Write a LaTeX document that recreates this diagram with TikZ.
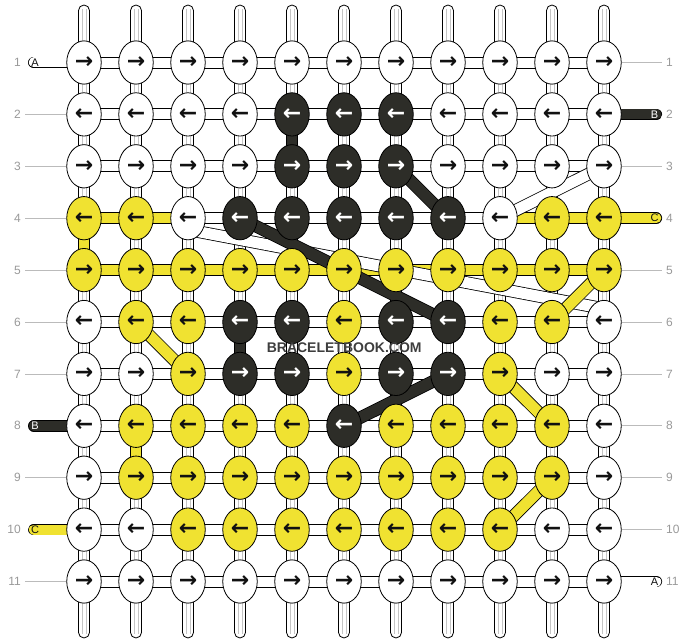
\documentclass[tikz,border=0pt]{standalone}
\usepackage{fontspec}
\setmainfont{Liberation Sans}
\newfontfamily\arrowfont{DejaVu Sans}
\usetikzlibrary{shapes.geometric,calc}
\pgfdeclarelayer{bg}
\pgfdeclarelayer{mid}
\pgfsetlayers{bg,mid,main}
\definecolor{colW}{HTML}{FFFFFF}
\definecolor{colY}{HTML}{F0E231}
\definecolor{colD}{HTML}{2D2D28}
\definecolor{txtW}{HTML}{111111}
\definecolor{txtY}{HTML}{111111}
\definecolor{txtD}{HTML}{FFFFFF}
\definecolor{lblgray}{HTML}{999999}
\definecolor{linegray}{HTML}{BBBBBB}
\definecolor{warpgray}{HTML}{C4C4C4}
\definecolor{wmgray}{HTML}{3E3E3E}
\begin{document}
\begin{tikzpicture}[x=1pt,y=-1pt,
  knot/.style={ellipse,draw=black,line width=0.8pt,minimum width=34.5pt,minimum height=43.3pt,inner sep=0pt,font=\arrowfont\bfseries\fontsize{22}{22}\selectfont},
  link/.style={draw=black,line width=0.8pt},
  rowlbl/.style={text=lblgray,font=\fontsize{12}{12}\selectfont,inner sep=0pt},
  guide/.style={draw=linegray,line width=0.8pt},
  tailout/.style={line width=11.6pt,line cap=round,draw=black},
  tailin/.style={line width=10pt,line cap=round},
  tailtxt/.style={font=\fontsize{11}{11}\selectfont,inner sep=0pt},
  bandout/.style={line width=12.6pt,draw=black},
  bandin/.style={line width=11pt},
  wm/.style={font=\bfseries\fontsize{14}{14}\selectfont,text=wmgray,inner sep=0pt}]
\useasboundingbox (0,0) rectangle (688,644);

% knots
\foreach \r/\cl in {
1/{W,W,W,W,W,W,W,W,W,W,W},
2/{W,W,W,W,D,D,D,W,W,W,W},
3/{W,W,W,W,D,D,D,W,W,W,W},
4/{Y,Y,W,D,D,D,D,D,W,Y,Y},
5/{Y,Y,Y,Y,Y,Y,Y,Y,Y,Y,Y},
6/{W,Y,Y,D,D,Y,D,D,Y,Y,W},
7/{W,W,Y,D,D,Y,D,D,Y,W,W},
8/{W,Y,Y,Y,Y,D,Y,Y,Y,Y,W},
9/{W,Y,Y,Y,Y,Y,Y,Y,Y,Y,W},
10/{W,W,Y,Y,Y,Y,Y,Y,Y,W,W},
11/{W,W,W,W,W,W,W,W,W,W,W}}{
  \foreach \k [count=\c] in \cl {
    \pgfmathsetmacro\xx{84+52*(\c-1)}
    \pgfmathsetmacro\yy{62.5+51.9*(\r-1)}
    \node[knot,fill=col\k,text=txt\k] (n-\r-\c) at (\xx,\yy) {\ifodd\r →\else ←\fi};
  }
}

% warp strips
\begin{pgfonlayer}{bg}
\foreach \c in {1,...,11}{
  \draw[link,fill=white,rounded corners=5.5pt] ($(n-1-\c)+(-5.5,-57.5)$) rectangle ($(n-11-\c)+(5.5,56.5)$);
  \draw[warpgray,line width=0.8pt] ($(n-1-\c)+(-2,-53)$) -- ($(n-11-\c)+(-2,52)$);
  \draw[warpgray,line width=0.8pt] ($(n-1-\c)+(2,-53)$) -- ($(n-11-\c)+(2,52)$);
}
\end{pgfonlayer}

\begin{pgfonlayer}{mid}
% coloured vertical segments
\foreach \r/\rn/\c/\k in {2/3/5/D,4/5/1/Y,6/7/4/D,8/9/2/Y}{
  \draw[link,fill=col\k] ($(n-\r-\c)+(-5.5,0)$) rectangle ($(n-\rn-\c)+(5.5,0)$);
}
% horizontal links
\foreach \r in {1,...,11}{
  \foreach \c [evaluate=\c as \cn using int(\c+1)] in {1,...,10}{
    \draw[link,fill=white] ($(n-\r-\c)+(0,-5.5)$) rectangle ($(n-\r-\cn)+(0,5.5)$);
  }
}
\foreach \r/\c/\cn in {4/1/2,4/2/3,4/9/10,4/10/11,5/1/2,5/2/3,5/3/4,5/4/5,5/5/6,5/6/7,5/7/8,5/8/9,5/9/10,5/10/11}{
  \draw[link,fill=colY] ($(n-\r-\c)+(0,-5.5)$) rectangle ($(n-\r-\cn)+(0,5.5)$);
}
% carried white threads
\draw[bandout] (n-4-9.center) -- (n-3-11.center);
\draw[bandin,white] (n-4-9.center) -- (n-3-11.center);
\draw[bandout] ($(n-4-3)+(0,11.5)$) -- ($(n-6-11)+(0,-13.3)$);
\draw[bandin,white] ($(n-4-3)+(0,11.5)$) -- ($(n-6-11)+(0,-13.3)$);
% carried dark threads
\foreach \a/\b in {n-3-7/n-4-8,n-4-4/n-6-8,n-8-6/n-7-8}{
  \draw[bandout] (\a.center) -- (\b.center);
  \draw[bandin,colD] (\a.center) -- (\b.center);
}
% carried yellow threads
\foreach \a/\b in {n-6-2/n-7-3,n-6-10/n-5-11,n-7-9/n-8-10,n-10-9/n-9-10}{
  \draw[bandout] (\a.center) -- (\b.center);
  \draw[bandin,colY] (\a.center) -- (\b.center);
}
% guide lines
\foreach \r in {2,3,4,5,6,7,9,11}{
  \draw[guide] ($(n-\r-1)+(-59,0)$) -- (n-\r-1.west);
}
\foreach \r in {1,3,5,6,7,8,9,10}{
  \draw[guide] (n-\r-11.east) -- ($(n-\r-11)+(58,0)$);
}
% thread ends
\foreach \r/\k/\t in {1/W/A,8/D/B,10/Y/C}{
  \draw[tailout] ($(n-\r-1)+(-50.2,0)$) -- (n-\r-1.center);
  \draw[tailin,col\k] ($(n-\r-1)+(-50.2,0)$) -- (n-\r-1.center);
  \node[tailtxt,text=txt\k] (tl-\r) at ($(n-\r-1)+(-49,0)$) {\t};
}
\foreach \r/\k/\t in {2/D/B,4/Y/C,11/W/A}{
  \draw[tailout] (n-\r-11.center) -- ($(n-\r-11)+(52.3,0)$);
  \draw[tailin,col\k] (n-\r-11.center) -- ($(n-\r-11)+(52.3,0)$);
  \node[tailtxt,text=txt\k] (tr-\r) at ($(n-\r-11)+(50.5,0)$) {\t};
}
\end{pgfonlayer}

% row numbers
\foreach \r in {1,...,11}{
  \node[rowlbl,anchor=east] (ll-\r) at ($(n-\r-1)+(-63,0)$) {\r};
  \node[rowlbl,anchor=west] (lr-\r) at ($(n-\r-11)+(62,0)$) {\r};
}

\node[wm] (wmk) at (344.2,347.5) {BRACELETBOOK.COM};
\end{tikzpicture}
\end{document}
